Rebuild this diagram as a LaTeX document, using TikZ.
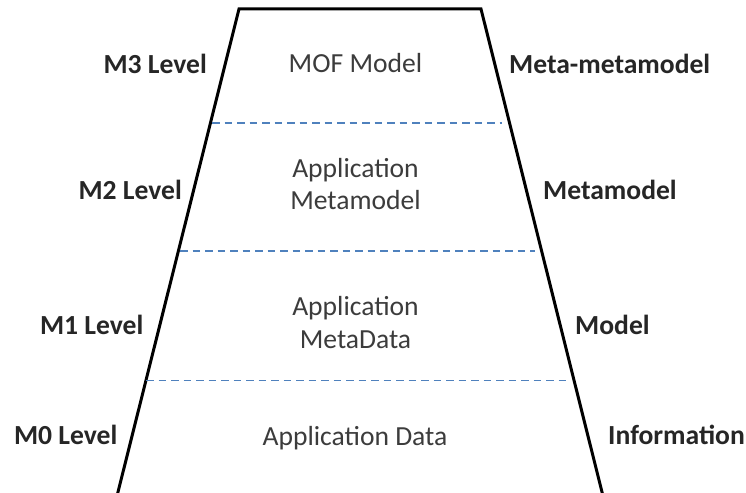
\documentclass[tikz,border=0pt]{standalone}
\usepackage{fontspec}
\setmainfont{Carlito}
\definecolor{txtgray}{RGB}{60,60,60}
\definecolor{lblgray}{RGB}{38,38,38}
\definecolor{dashblue}{RGB}{79,129,189}
\tikzset{
  centertext/.style={anchor=base, inner sep=0pt, text=txtgray, font=\fontsize{27.6}{33}\selectfont},
  leftlbl/.style={anchor=base east, inner sep=0pt, text=lblgray, font=\fontsize{27.6}{33}\selectfont\bfseries},
  rightlbl/.style={anchor=base west, inner sep=0pt, text=lblgray, font=\fontsize{27.6}{33}\selectfont\bfseries},
  outline/.style={line width=3pt, black, line join=miter},
  divider/.style={line width=1.4pt, dashblue, dash pattern=on 7.5pt off 5pt}
}
\begin{document}
\begin{tikzpicture}[x=1pt, y=-1pt]
\useasboundingbox (0,0) rectangle (746,492);
\fill[white] (0,0) rectangle (746,492);
% trapezoid corners
\coordinate (bl) at (117.5,494);
\coordinate (tl) at (239,9);
\coordinate (tr) at (481,9);
\coordinate (br) at (602.5,494);
\draw[outline] (bl) -- (tl) -- (tr) -- (br);
% dividers
\coordinate (d1l) at (212,123);
\coordinate (d1r) at (502,123);
\coordinate (d2l) at (180,251);
\coordinate (d2r) at (535,251);
\coordinate (d3l) at (146,380.5);
\coordinate (d3r) at (567,380.5);
\draw[divider] (d1l) -- (d1r);
\draw[divider] (d2l) -- (d2r);
\draw[divider] (d3l) -- (d3r);
% centre texts
\node[centertext] (mof) at (355.5,73) {MOF Model};
\node[centertext] (am1) at (355.5,177) {Application};
\node[centertext] (am2) at (355.5,209.5) {Metamodel};
\node[centertext] (ad1) at (355.5,315) {Application};
\node[centertext] (ad2) at (355.5,348) {MetaData};
\node[centertext] (adata) at (355,445) {Application Data};
% left labels
\node[leftlbl] (m3) at (207,74) {M3 Level};
\node[leftlbl] (m2) at (182,199) {M2 Level};
\node[leftlbl] (m1) at (143.5,334) {M1 Level};
\node[leftlbl] (m0) at (117.5,444) {M0 Level};
% right labels
\node[rightlbl] (mmm) at (509,74) {Meta-metamodel};
\node[rightlbl] (mm) at (543,199) {Metamodel};
\node[rightlbl] (mod) at (575,334) {Model};
\node[rightlbl] (inf) at (608,444) {Information};
\end{tikzpicture}
\end{document}
